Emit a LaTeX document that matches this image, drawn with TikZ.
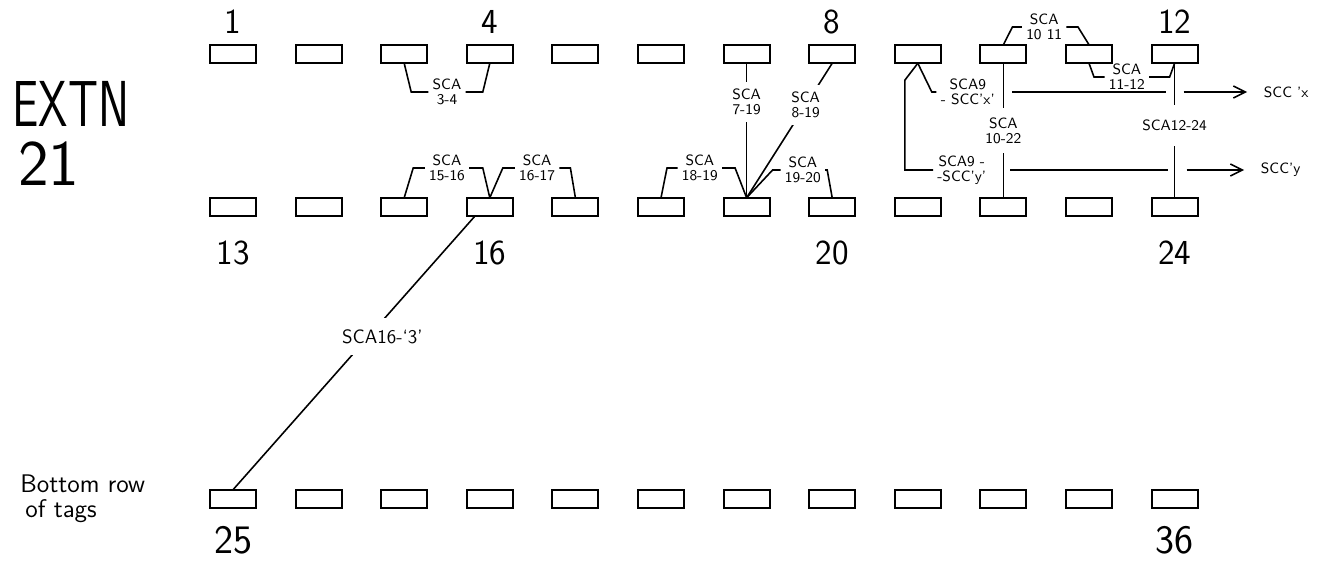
\documentclass[tikz,border=0pt]{standalone}
\usepackage{fontspec}
\usepackage{tikz}
\usetikzlibrary{calc,positioning,arrows.meta}
\tikzset{
  tag/.style={draw,line width=1.2pt,minimum width=9.2mm,minimum height=3.7mm,inner sep=0pt,outer sep=0pt},
  sca/.style={font=\sffamily\fontsize{8.5}{8.5}\selectfont,align=center,inner sep=2pt},
  cutlabel/.style={sca,fill=white,inner ysep=4pt},
  num/.style={font=\sffamily\fontsize{20}{20}\selectfont,inner sep=0pt},
  bignum/.style={font=\sffamily\fontsize{23}{23}\selectfont,inner sep=0pt},
  heading/.style={font=\sffamily\fontsize{37}{37}\selectfont,inner sep=0pt},
  wire/.style={line width=0.9pt},
  bracket/.style={to path={-- ($(\tikztostart|-\tikztotarget)+(#1,0)$) -- (\tikztotarget)}},
  >={Straight Barb[length=2.4mm,width=2.4mm]}
}
\begin{document}
\begin{tikzpicture}[wire]
  \useasboundingbox (-4.66,1.08) rectangle (21.84,-10.14);

  \node [tag] (t1) {};
  \node [tag,right=7.92mm of t1] (t2) {};
  \node [tag,right=7.92mm of t2] (t3) {};
  \node [tag,right=7.92mm of t3] (t4) {};
  \node [tag,right=7.92mm of t4] (t5) {};
  \node [tag,right=7.92mm of t5] (t6) {};
  \node [tag,right=7.92mm of t6] (t7) {};
  \node [tag,right=7.92mm of t7] (t8) {};
  \node [tag,right=7.92mm of t8] (t9) {};
  \node [tag,right=7.92mm of t9] (t10) {};
  \node [tag,right=7.92mm of t10] (t11) {};
  \node [tag,right=7.92mm of t11] (t12) {};
  \node [tag,below=26.9mm of t1] (t13) {};
  \node [tag,right=7.92mm of t13] (t14) {};
  \node [tag,right=7.92mm of t14] (t15) {};
  \node [tag,right=7.92mm of t15] (t16) {};
  \node [tag,right=7.92mm of t16] (t17) {};
  \node [tag,right=7.92mm of t17] (t18) {};
  \node [tag,right=7.92mm of t18] (t19) {};
  \node [tag,right=7.92mm of t19] (t20) {};
  \node [tag,right=7.92mm of t20] (t21) {};
  \node [tag,right=7.92mm of t21] (t22) {};
  \node [tag,right=7.92mm of t22] (t23) {};
  \node [tag,right=7.92mm of t23] (t24) {};
  \node [tag,below=54.7mm of t13] (t25) {};
  \node [tag,right=7.92mm of t25] (t26) {};
  \node [tag,right=7.92mm of t26] (t27) {};
  \node [tag,right=7.92mm of t27] (t28) {};
  \node [tag,right=7.92mm of t28] (t29) {};
  \node [tag,right=7.92mm of t29] (t30) {};
  \node [tag,right=7.92mm of t30] (t31) {};
  \node [tag,right=7.92mm of t31] (t32) {};
  \node [tag,right=7.92mm of t32] (t33) {};
  \node [tag,right=7.92mm of t33] (t34) {};
  \node [tag,right=7.92mm of t34] (t35) {};
  \node [tag,right=7.92mm of t35] (t36) {};

  \node [num,above=2mm of t1] (n1) {1};
  \node [num,above=2mm of t4] (n4) {4};
  \node [num,above=2mm of t8] (n8) {8};
  \node [num,above=2mm of t12] (n12) {12};
  \node [num,below=4.8mm of t13] (n13) {13};
  \node [num,below=4.8mm of t16] (n16) {16};
  \node [num,below=4.8mm of t20] (n20) {20};
  \node [num,below=4.8mm of t24] (n24) {24};
  \node [bignum,below=3.5mm of t25] (n25) {25};
  \node [bignum,below=3.5mm of t36] (n36) {36};

  \node [heading,left=16mm of t1,yshift=-9.9mm] (extn) {\scalebox{0.72}[1]{EXTN}};
  \node [heading,left=26mm of t13,yshift=8.6mm] (ext21) {21};
  \node [font=\sffamily\fontsize{14.5}{14}\selectfont,align=left,inner sep=0pt,left=12.8mm of t25] (bottom) {Bottom row\\\hspace*{1mm}of tags};

  \node [sca] (l34) at ($(t3)!.5!(t4)+(0,-7.6mm)$) {SCA\\3-4};
  \node [sca] (l1516) at ($(t15)!.5!(t16)+(0,7.8mm)$) {SCA\\15-16};
  \node [sca] (l1617) at ($(t16)!.5!(t17)+(0.9mm,7.8mm)$) {SCA\\16-17};
  \node [sca] (l1819) at ($(t18)!.5!(t19)+(-0.8mm,7.8mm)$) {SCA\\18-19};
  \node [sca] (l1920) at ($(t19)!.5!(t20)+(2.7mm,7.4mm)$) {SCA\\19-20};
  \node [sca] (l1011) at ($(t10)!.5!(t11)+(-0.4mm,5.4mm)$) {SCA\\10 11};
  \node [sca] (l1112) at ($(t11)!.5!(t12)+(-1mm,-4.6mm)$) {SCA\\11-12};
  \node [sca] (l9x) at ($(t9)+(10mm,-7.6mm)$) {SCA9\\- SCC'x'};
  \node [sca] (l9y) at ($(t21)+(8.8mm,7.4mm)$) {SCA9 -\\-SCC'y'};
  \node [sca,anchor=west] (sccx) at ($(t12|-l9x.east)+(17mm,0)$) {SCC 'x};
  \node [sca,anchor=west] (sccy) at ($(t24|-l9y.east)+(16.4mm,0)$) {SCC'y};

  \draw (t3.south) to [bracket=1.4mm] (l34.west)
        (t4.south) to [bracket=-1.4mm] (l34.east)
        (t15.north) to [bracket=1.8mm] (l1516.west)
        (t16.north) to [bracket=-1.4mm] (l1516.east)
        (t16.north) to [bracket=2.6mm] (l1617.west)
        (t17.north) to [bracket=-1mm] (l1617.east)
        (t18.north) to [bracket=1.2mm] (l1819.west)
        (t19.north) to [bracket=-2.3mm] (l1819.east)
        (t19.north) to [bracket=5.2mm] (l1920.west)
        (t20.north) to [bracket=-1mm] (l1920.east)
        (t10.north) to [bracket=1.8mm] (l1011.west)
        (t11.north) to [bracket=-2.2mm] (l1011.east)
        (t11.south) to [bracket=1mm] (l1112.west)
        (t12.south) to [bracket=-1mm] (l1112.east)
        (t9.south) to [bracket=2.8mm] (l9x.west);
  \draw (t9.south) -- ++(-2.6mm,-3.4mm) |- (l9y.west);

  \path (t7.south) edge node [cutlabel,pos=.29] {SCA\\7-19} (t19.north)
        (t8.south) edge node [cutlabel,pos=.31] {SCA\\8-19} (t19.north)
        (t10.south) edge node [cutlabel,pos=.5,inner ysep=2mm] {SCA\\10-22} (t22.north)
        (t12.south) edge node [cutlabel,pos=.46,inner ysep=3mm] {SCA12-24} (t24.north)
        ([xshift=-3mm]t16.south) edge node [cutlabel,pos=.44,xshift=2.8mm,inner ysep=2.2mm,font=\sffamily\fontsize{11}{11}\selectfont] {SCA16-`3'} (t25.north);

  \draw ($(t10|-l9x.east)+(1.8mm,0)$) -- ($(t12|-l9x.east)+(-1.8mm,0)$);
  \draw [->,shorten >=2.5mm] ($(t12|-l9x.east)+(1.8mm,0)$) -- (sccx);
  \draw ($(t22|-l9y.east)+(1.4mm,0)$) -- ($(t24|-l9y.east)+(-1.4mm,0)$);
  \draw [->,shorten >=2.5mm] ($(t24|-l9y.east)+(2.4mm,0)$) -- (sccy);
\end{tikzpicture}
\end{document}
